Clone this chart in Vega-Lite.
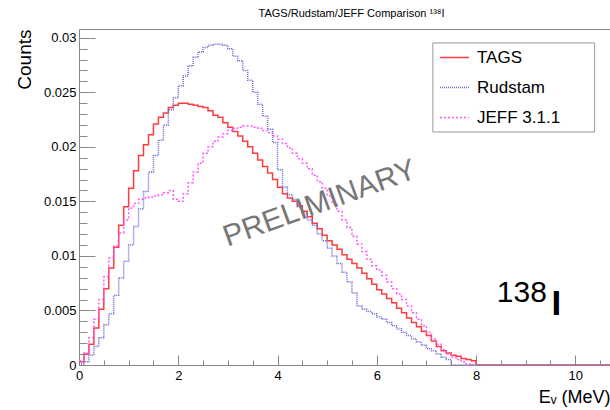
{
  "$schema": "https://vega.github.io/schema/vega-lite/v6.json",
  "width": 531,
  "height": 336,
  "autosize": {"type": "none"},
  "padding": {"left": 79, "top": 29, "right": 0, "bottom": 45},
  "background": "white",
  "title": {"text": "TAGS/Rudstam/JEFF Comparison ¹³⁸I", "fontSize": 11, "fontWeight": "normal", "font": "Liberation Sans", "color": "#000", "offset": 10, "dx": 7, "anchor": "middle"},
  "config": {"view": {"stroke": "#888", "strokeWidth": 1}, "font": "Liberation Sans", "axis": {"grid": false}},
  "resolve": {"axis": {"x": "independent", "y": "independent"}},
  "data": {"values": [
    {"e":0.0,"TAGS":0.0003,"Rudstam":0.0001,"JEFF":0.0004},
    {"e":0.1,"TAGS":0.0010,"Rudstam":0.0003,"JEFF":0.0011},
    {"e":0.2,"TAGS":0.0019,"Rudstam":0.0009,"JEFF":0.0025},
    {"e":0.3,"TAGS":0.0034,"Rudstam":0.0017,"JEFF":0.0042},
    {"e":0.4,"TAGS":0.0051,"Rudstam":0.0025,"JEFF":0.0060},
    {"e":0.5,"TAGS":0.0070,"Rudstam":0.0037,"JEFF":0.0081},
    {"e":0.6,"TAGS":0.0089,"Rudstam":0.0047,"JEFF":0.0098},
    {"e":0.7,"TAGS":0.0108,"Rudstam":0.0064,"JEFF":0.0109},
    {"e":0.8,"TAGS":0.0128,"Rudstam":0.0080,"JEFF":0.0121},
    {"e":0.9,"TAGS":0.0145,"Rudstam":0.0095,"JEFF":0.0133},
    {"e":1.0,"TAGS":0.0162,"Rudstam":0.0110,"JEFF":0.0144},
    {"e":1.1,"TAGS":0.0178,"Rudstam":0.0127,"JEFF":0.0148},
    {"e":1.2,"TAGS":0.0192,"Rudstam":0.0143,"JEFF":0.0152},
    {"e":1.3,"TAGS":0.0202,"Rudstam":0.0159,"JEFF":0.0153},
    {"e":1.4,"TAGS":0.0211,"Rudstam":0.0177,"JEFF":0.0154},
    {"e":1.5,"TAGS":0.0221,"Rudstam":0.0192,"JEFF":0.0155},
    {"e":1.6,"TAGS":0.0227,"Rudstam":0.0206,"JEFF":0.0156},
    {"e":1.7,"TAGS":0.0231,"Rudstam":0.0220,"JEFF":0.0158},
    {"e":1.8,"TAGS":0.0236,"Rudstam":0.0234,"JEFF":0.0160},
    {"e":1.9,"TAGS":0.0238,"Rudstam":0.0245,"JEFF":0.0152},
    {"e":2.0,"TAGS":0.0240,"Rudstam":0.0256,"JEFF":0.0150},
    {"e":2.1,"TAGS":0.0240,"Rudstam":0.0265,"JEFF":0.0157},
    {"e":2.2,"TAGS":0.0239,"Rudstam":0.0274,"JEFF":0.0167},
    {"e":2.3,"TAGS":0.0238,"Rudstam":0.0282,"JEFF":0.0177},
    {"e":2.4,"TAGS":0.0237,"Rudstam":0.0287,"JEFF":0.0185},
    {"e":2.5,"TAGS":0.0236,"Rudstam":0.0291,"JEFF":0.0194},
    {"e":2.6,"TAGS":0.0233,"Rudstam":0.0293,"JEFF":0.0200},
    {"e":2.7,"TAGS":0.0229,"Rudstam":0.0294,"JEFF":0.0205},
    {"e":2.8,"TAGS":0.0227,"Rudstam":0.0294,"JEFF":0.0209},
    {"e":2.9,"TAGS":0.0222,"Rudstam":0.0293,"JEFF":0.0212},
    {"e":3.0,"TAGS":0.0218,"Rudstam":0.0290,"JEFF":0.0215},
    {"e":3.1,"TAGS":0.0214,"Rudstam":0.0283,"JEFF":0.0217},
    {"e":3.2,"TAGS":0.0210,"Rudstam":0.0279,"JEFF":0.0218},
    {"e":3.3,"TAGS":0.0205,"Rudstam":0.0270,"JEFF":0.0219},
    {"e":3.4,"TAGS":0.0200,"Rudstam":0.0261,"JEFF":0.0219},
    {"e":3.5,"TAGS":0.0194,"Rudstam":0.0250,"JEFF":0.0218},
    {"e":3.6,"TAGS":0.0188,"Rudstam":0.0239,"JEFF":0.0217},
    {"e":3.7,"TAGS":0.0182,"Rudstam":0.0228,"JEFF":0.0215},
    {"e":3.8,"TAGS":0.0176,"Rudstam":0.0216,"JEFF":0.0213},
    {"e":3.9,"TAGS":0.0170,"Rudstam":0.0204,"JEFF":0.0210},
    {"e":4.0,"TAGS":0.0163,"Rudstam":0.0179,"JEFF":0.0207},
    {"e":4.1,"TAGS":0.0157,"Rudstam":0.0163,"JEFF":0.0203},
    {"e":4.2,"TAGS":0.0153,"Rudstam":0.0156,"JEFF":0.0199},
    {"e":4.3,"TAGS":0.0150,"Rudstam":0.0152,"JEFF":0.0194},
    {"e":4.4,"TAGS":0.0146,"Rudstam":0.0145,"JEFF":0.0189},
    {"e":4.5,"TAGS":0.0141,"Rudstam":0.0139,"JEFF":0.0185},
    {"e":4.6,"TAGS":0.0136,"Rudstam":0.0133,"JEFF":0.0180},
    {"e":4.7,"TAGS":0.0130,"Rudstam":0.0128,"JEFF":0.0174},
    {"e":4.8,"TAGS":0.0125,"Rudstam":0.0120,"JEFF":0.0168},
    {"e":4.9,"TAGS":0.0119,"Rudstam":0.0114,"JEFF":0.0162},
    {"e":5.0,"TAGS":0.0114,"Rudstam":0.0107,"JEFF":0.0155},
    {"e":5.1,"TAGS":0.0110,"Rudstam":0.0100,"JEFF":0.0148},
    {"e":5.2,"TAGS":0.0106,"Rudstam":0.0093,"JEFF":0.0141},
    {"e":5.3,"TAGS":0.0101,"Rudstam":0.0085,"JEFF":0.0133},
    {"e":5.4,"TAGS":0.0097,"Rudstam":0.0076,"JEFF":0.0126},
    {"e":5.5,"TAGS":0.0093,"Rudstam":0.0066,"JEFF":0.0118},
    {"e":5.6,"TAGS":0.0089,"Rudstam":0.0054,"JEFF":0.0111},
    {"e":5.7,"TAGS":0.0084,"Rudstam":0.0051,"JEFF":0.0104},
    {"e":5.8,"TAGS":0.0079,"Rudstam":0.0049,"JEFF":0.0097},
    {"e":5.9,"TAGS":0.0074,"Rudstam":0.0047,"JEFF":0.0091},
    {"e":6.0,"TAGS":0.0069,"Rudstam":0.0044,"JEFF":0.0087},
    {"e":6.1,"TAGS":0.0065,"Rudstam":0.0042,"JEFF":0.0082},
    {"e":6.2,"TAGS":0.0061,"Rudstam":0.0039,"JEFF":0.0076},
    {"e":6.3,"TAGS":0.0057,"Rudstam":0.0036,"JEFF":0.0070},
    {"e":6.4,"TAGS":0.0052,"Rudstam":0.0033,"JEFF":0.0065},
    {"e":6.5,"TAGS":0.0048,"Rudstam":0.0030,"JEFF":0.0060},
    {"e":6.6,"TAGS":0.0043,"Rudstam":0.0027,"JEFF":0.0054},
    {"e":6.7,"TAGS":0.0039,"Rudstam":0.0024,"JEFF":0.0048},
    {"e":6.8,"TAGS":0.0035,"Rudstam":0.0021,"JEFF":0.0042},
    {"e":6.9,"TAGS":0.0031,"Rudstam":0.0018,"JEFF":0.0036},
    {"e":7.0,"TAGS":0.0027,"Rudstam":0.0015,"JEFF":0.0030},
    {"e":7.1,"TAGS":0.0022,"Rudstam":0.0013,"JEFF":0.0024},
    {"e":7.2,"TAGS":0.0017,"Rudstam":0.0010,"JEFF":0.0019},
    {"e":7.3,"TAGS":0.0013,"Rudstam":0.0007,"JEFF":0.0014},
    {"e":7.4,"TAGS":0.0011,"Rudstam":0.0005,"JEFF":0.0010},
    {"e":7.5,"TAGS":0.0009,"Rudstam":0,"JEFF":0.0007},
    {"e":7.6,"TAGS":0.0008,"Rudstam":0,"JEFF":0.0005},
    {"e":7.7,"TAGS":0.0006,"Rudstam":0,"JEFF":0.0003},
    {"e":7.8,"TAGS":0.0005,"Rudstam":0,"JEFF":0.0001},
    {"e":7.9,"TAGS":0.0004,"Rudstam":0,"JEFF":0},
    {"e":8.0,"TAGS":0,"Rudstam":0,"JEFF":0},
    {"e":10.7,"TAGS":0,"Rudstam":0,"JEFF":0}
  ]},
  "layer": [
    {
      "data": {"values": [{}]},
      "mark": {"type": "rect", "fill": "white", "stroke": "#999", "strokeWidth": 1},
      "encoding": {
        "x": {"datum": 7.13, "type": "quantitative", "scale": {"domain": [0, 10.7], "nice": false, "zero": false}, "axis": null},
        "x2": {"datum": 10.39},
        "y": {"datum": 0.02952, "type": "quantitative", "scale": {"domain": [0, 0.0308], "nice": false}, "axis": null},
        "y2": {"datum": 0.02136}
      }
    },
    {
      "transform": [{"fold": ["TAGS", "Rudstam", "JEFF"], "as": ["series", "counts"]}],
      "mark": {"type": "line", "interpolate": "step-after", "strokeWidth": 1.5, "clip": true},
      "encoding": {
        "x": {"field": "e", "type": "quantitative",
          "axis": {"orient": "bottom", "values": [0, 2, 4, 6, 8, 10], "format": "d", "ticks": false,
            "labelPadding": 4, "labelFontSize": 13, "labelFont": "Liberation Sans", "labelColor": "#000", "labelFlush": false,
            "domainColor": "#888",
            "title": "Eᵥ (MeV)", "titleFontSize": 18, "titleFontWeight": "normal", "titleFont": "Liberation Sans", "titleColor": "#000",
            "titleX": 531, "titleY": 37, "titleAlign": "right", "titleBaseline": "alphabetic", "titleAnchor": "end"}},
        "y": {"field": "counts", "type": "quantitative",
          "axis": {"orient": "left", "values": [0, 0.005, 0.01, 0.015, 0.02, 0.025, 0.03], "format": "~g", "ticks": false,
            "labelPadding": 3, "labelFontSize": 13, "labelFont": "Liberation Sans", "labelColor": "#000", "labelFlush": false, "labelOverlap": false,
            "domainColor": "#888",
            "title": "Counts", "titleFontSize": 19, "titleFontWeight": "normal", "titleFont": "Liberation Sans", "titleColor": "#000",
            "titleAngle": 270, "titleX": -55, "titleY": 0, "titleAlign": "right", "titleBaseline": "middle"}},
        "color": {"field": "series", "type": "nominal",
          "scale": {"domain": ["TAGS", "Rudstam", "JEFF"], "range": ["#ff3b3b", "#6a6ad4", "#ff55ff"]},
          "legend": {"orient": "none", "legendX": 360, "legendY": 13, "title": null, "symbolType": "stroke", "symbolSize": 841, "symbolStrokeWidth": 1.5,
            "labelFontSize": 17, "labelFont": "Liberation Sans", "labelColor": "#000", "labelOffset": 7, "rowPadding": 6, "padding": 0,
            "labelExpr": "datum.label == 'JEFF' ? 'JEFF 3.1.1' : datum.label"}},
        "strokeDash": {"field": "series", "type": "nominal",
          "scale": {"domain": ["TAGS", "Rudstam", "JEFF"], "range": [[1, 0], [1, 1], [2, 2]]},
          "legend": {"orient": "none", "legendX": 360, "legendY": 13, "title": null, "symbolType": "stroke", "symbolSize": 841, "symbolStrokeWidth": 1.5,
            "labelFontSize": 17, "labelFont": "Liberation Sans", "labelColor": "#000", "labelOffset": 7, "rowPadding": 6, "padding": 0,
            "labelExpr": "datum.label == 'JEFF' ? 'JEFF 3.1.1' : datum.label"}}
      }
    },
    {
      "data": {"values": [{}]},
      "mark": {"type": "text", "text": "PRELIMINARY", "angle": -20, "fontSize": 30, "font": "Liberation Sans", "color": "#777", "align": "center", "baseline": "middle"},
      "encoding": {
        "x": {"datum": 4.85, "type": "quantitative",
          "axis": {"orient": "bottom", "offset": -10, "tickSize": 10, "values": [0, 2, 4, 6, 8, 10], "domain": false, "labels": false, "title": null, "tickColor": "#888"}},
        "y": {"datum": 0.0148, "type": "quantitative",
          "axis": {"orient": "left", "offset": -16, "tickSize": 16, "values": [0, 0.005, 0.01, 0.015, 0.02, 0.025, 0.03], "domain": false, "labels": false, "title": null, "tickColor": "#888"}}
      }
    },
    {
      "data": {"values": [{}]},
      "mark": {"type": "text", "text": "138", "fontSize": 30, "font": "Liberation Sans", "color": "#000", "align": "left", "baseline": "alphabetic"},
      "encoding": {
        "x": {"datum": 8.42, "type": "quantitative",
          "axis": {"orient": "bottom", "offset": -5, "tickSize": 5, "values": [0.5, 1, 1.5, 2.5, 3, 3.5, 4.5, 5, 5.5, 6.5, 7, 7.5, 8.5, 9, 9.5, 10.5], "domain": false, "labels": false, "title": null, "tickColor": "#888"}},
        "y": {"datum": 0.00579, "type": "quantitative",
          "axis": {"orient": "left", "offset": -8, "tickSize": 8, "values": [0.001, 0.002, 0.003, 0.004, 0.006, 0.007, 0.008, 0.009, 0.011, 0.012, 0.013, 0.014, 0.016, 0.017, 0.018, 0.019, 0.021, 0.022, 0.023, 0.024, 0.026, 0.027, 0.028, 0.029], "domain": false, "labels": false, "title": null, "tickColor": "#888"}}
      }
    },
    {
      "data": {"values": [{}]},
      "mark": {"type": "text", "text": "I", "fontSize": 35, "fontWeight": "bold", "font": "Liberation Sans", "color": "#000", "align": "center", "baseline": "alphabetic"},
      "encoding": {"x": {"datum": 9.62, "type": "quantitative", "axis": null}, "y": {"datum": 0.00459, "type": "quantitative", "axis": null}}
    }
  ]
}
